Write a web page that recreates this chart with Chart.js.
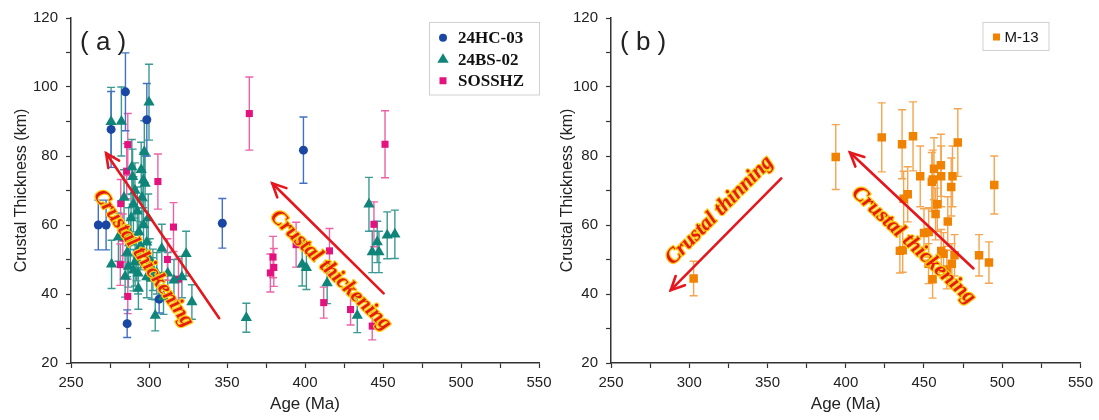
<!DOCTYPE html>
<html>
<head>
<meta charset="utf-8">
<script src="https://cdn.jsdelivr.net/npm/chart.js@4.4.1/dist/chart.umd.min.js"></script>
<style>
html, body { margin: 0; padding: 0; background: #fff; }
#wrap { position: relative; width: 1099px; height: 420px; overflow: hidden; }
.panel { position: absolute; top: 0; height: 420px; }
</style>
</head>
<body>
<div id="wrap">
  <div class="panel" style="left:0;width:560px"><canvas id="chartA"></canvas></div>
  <div class="panel" style="left:550px;width:549px"><canvas id="chartB"></canvas></div>
</div>
<script>
// ---- dados ----
// (a) 24HC-03
const ageHC = [267.5, 272.5, 275.7, 284.9, 286.0, 298.6, 306.5, 347.0, 399.0];
const thickHC = [60.0, 60.0, 87.7, 98.6, 31.4, 90.5, 38.5, 60.5, 81.7];
const errHC = [7.2, 7.2, 11.0, 11.3, 4.0, 10.5, 4.0, 7.2, 9.6];

// (a) 24BS-02
const ageBS = [275.7, 282.3, 300.0, 297.0, 289.0, 296.4, 276.0, 284.7, 291.1, 293.2,
               304.0, 309.3, 308.2, 298.6, 301.8, 280.4, 321.1, 323.8, 327.5, 286.8,
               290.0, 292.0, 287.0, 288.5, 290.0, 291.0, 292.5, 293.5, 294.5, 295.5,
               296.5, 297.5, 298.5, 299.5, 289.5, 286.0, 284.0, 300.5, 302.5, 305.0,
               312.0, 316.0, 295.0, 293.0, 288.0,
               362.4, 398.2, 400.9, 414.2, 433.5, 441.0, 443.1, 447.4, 446.3, 452.7, 457.6];
const thickBS = [89.9, 90.0, 95.6, 81.2, 76.8, 73.0, 48.6, 45.1, 49.3, 41.6,
                 33.8, 39.1, 53.2, 44.9, 44.5, 56.5, 44.9, 51.7, 37.7, 48.0,
                 46.9, 49.8, 58.0, 62.0, 66.0, 70.0, 64.0, 58.0, 54.0, 68.0,
                 60.0, 72.0, 55.0, 62.0, 74.0, 52.0, 68.0, 50.0, 47.0, 46.0,
                 46.0, 44.0, 76.0, 46.0, 55.0,
                 33.1, 48.6, 47.6, 43.2, 33.8, 66.0, 52.2, 52.2, 55.1, 57.0, 57.3];
const errBS = [10, 10, 11, 9, 8, 8, 7, 6, 7, 6,
               4.5, 5, 7, 6, 6, 7, 6, 6.5, 5, 6,
               6, 6, 7, 7, 8, 8, 7, 7, 7, 8,
               7, 8, 7, 7, 8, 7, 8, 6, 6, 6,
               6, 6, 8, 6, 7,
               4.2, 6.3, 6.3, 6, 5, 7.8, 6, 6, 6, 6.8, 7];

// (a) SOSSHZ
const ageSO = [286.4, 285.7, 305.7, 281.9, 283.2, 281.6, 286.4, 315.7, 311.8, 318.9,
               364.3, 451.3, 379.5, 377.8, 380.0, 394.3, 415.7, 412.0, 429.2, 444.2, 443.1];
const thickSO = [83.3, 75.6, 72.6, 66.2, 56.2, 48.5, 39.3, 59.4, 50.0, 44.3,
                 92.3, 83.4, 50.7, 46.1, 47.7, 54.3, 52.5, 37.5, 35.5, 60.2, 30.7];
const errSO = [9, 8, 8, 7, 7, 6, 5, 7.1, 6, 6,
               10.6, 9.7, 6, 5.5, 5.5, 6.5, 6.5, 4.5, 4.5, 6.5, 4];

// (b) M-13
const ageM13 = [302.8, 393.6, 423.0, 436.0, 443.0, 447.6, 437.0, 439.6, 434.6, 436.4,
                453.0, 455.5, 455.0, 455.6, 456.4, 460.8, 461.0, 468.2, 471.6, 467.4,
                457.4, 465.2, 494.9, 485.2, 491.5, 461.0, 462.5, 467.8, 469.5, 464.6,
                452.9, 458.5, 450.0];
const thickM13 = [44.5, 79.7, 85.4, 83.4, 85.7, 74.1, 67.6, 68.9, 52.5, 52.7,
                  58.0, 44.3, 72.5, 73.2, 76.3, 77.3, 74.1, 74.1, 83.9, 71.0,
                  63.2, 61.0, 71.6, 51.2, 49.1, 52.5, 51.7, 48.8, 51.2, 47.1,
                  48.8, 66.0, 57.7];
const errM13 = [5, 9.4, 10, 10, 10, 8.8, 8, 8, 6.4, 6.4,
                7, 5.5, 8.5, 8.5, 9, 9, 8.8, 8.8, 9.8, 8.4,
                7.5, 7.2, 8.4, 6, 6, 6.2, 6.1, 5.8, 6, 5.6,
                5.8, 7.8, 7];

// setas e textos (em unidades dos eixos)
const arrowsA = [{ from: [345, 33], to: [272.5, 80.8] }, { from: [450.4, 40.2], to: [379, 72.1] }];
const notesA = [{ text: 'Crustal thickening', at: [296.5, 50.3], arrow: 0 },
                { text: 'Crustal thickening', at: [416.5, 46.8], arrow: 1 }];
const arrowsB = [{ from: [358.8, 73.5], to: [288.2, 41.1] }, { from: [481.6, 47.4], to: [402.7, 81] }];
const notesB = [{ text: 'Crustal thinning', at: [319.3, 64.2], arrow: 0 },
                { text: 'Crustal thickening', at: [443.4, 54.1], arrow: 1 }];

const FONT = '"Liberation Sans", Arial, sans-serif';

function pontos(xs, ys) {
    return xs.map((x, i) => ({ x: x, y: ys[i] }));
}

function serie(label, xs, ys, errs, style, radius, cor, corErro) {
    return {
        label: label,
        data: pontos(xs, ys),
        errors: errs,
        errorColor: corErro,
        pointStyle: style,
        pointRadius: radius,
        pointBackgroundColor: cor,
        pointBorderColor: cor,
        pointBorderWidth: 0,
        showLine: false
    };
}

// desenha um marcador simples (legenda)
function marcador(ctx, style, x, y, r, cor) {
    ctx.fillStyle = cor;
    ctx.beginPath();
    if (style === 'circle') {
        ctx.arc(x, y, r, 0, Math.PI * 2);
    } else if (style === 'triangle') {
        ctx.moveTo(x, y - r);
        ctx.lineTo(x + r * 0.95, y + r * 0.6);
        ctx.lineTo(x - r * 0.95, y + r * 0.6);
        ctx.closePath();
    } else {
        ctx.rect(x - r, y - r, r * 2, r * 2);
    }
    ctx.fill();
}

function seta(ctx, x1, y1, x2, y2) {
    ctx.beginPath();
    ctx.moveTo(x1, y1);
    ctx.lineTo(x2, y2);
    ctx.stroke();
    const a = Math.atan2(y2 - y1, x2 - x1);
    const L = 15;
    ctx.beginPath();
    ctx.moveTo(x2 - L * Math.cos(a - 0.45), y2 - L * Math.sin(a - 0.45));
    ctx.lineTo(x2, y2);
    ctx.lineTo(x2 - L * Math.cos(a + 0.45), y2 - L * Math.sin(a + 0.45));
    ctx.stroke();
}

const decoPlugin = {
    id: 'deco',
    beforeDatasetsDraw(chart) {
        const ctx = chart.ctx;
        const yS = chart.scales.y;
        ctx.save();
        chart.data.datasets.forEach((ds, i) => {
            const meta = chart.getDatasetMeta(i);
            ctx.strokeStyle = ds.errorColor;
            ctx.lineWidth = 1.4;
            meta.data.forEach((pt, j) => {
                const v = ds.data[j].y, e = ds.errors[j];
                const yT = yS.getPixelForValue(v + e);
                const yB = yS.getPixelForValue(v - e);
                ctx.beginPath();
                ctx.moveTo(pt.x, yT); ctx.lineTo(pt.x, yB);
                ctx.moveTo(pt.x - 4, yT); ctx.lineTo(pt.x + 4, yT);
                ctx.moveTo(pt.x - 4, yB); ctx.lineTo(pt.x + 4, yB);
                ctx.stroke();
            });
        });
        ctx.restore();
    },
    afterDatasetsDraw(chart, args, opts) {
        const ctx = chart.ctx;
        const xS = chart.scales.x, yS = chart.scales.y;
        const area = chart.chartArea;
        const px = p => [xS.getPixelForValue(p[0]), yS.getPixelForValue(p[1])];
        ctx.save();

        // setas vermelhas
        ctx.strokeStyle = '#e5161d';
        ctx.lineWidth = 2.6;
        ctx.lineCap = 'round';
        opts.arrows.forEach(a => {
            const f = px(a.from), t = px(a.to);
            seta(ctx, f[0], f[1], t[0], t[1]);
        });

        // textos inclinados
        opts.notes.forEach(n => {
            const a = opts.arrows[n.arrow];
            const f = px(a.from), t = px(a.to);
            let ang = Math.atan2(t[1] - f[1], t[0] - f[0]);
            if (Math.cos(ang) < 0) ang += Math.PI;
            const c = px(n.at);
            ctx.save();
            ctx.translate(c[0], c[1]);
            ctx.rotate(ang);
            ctx.font = 'italic bold 21px "Liberation Serif", "Times New Roman", serif';
            ctx.textAlign = 'center';
            ctx.textBaseline = 'middle';
            ctx.lineJoin = 'round';
            ctx.lineWidth = 2.4;
            ctx.strokeStyle = '#ffcc10';
            ctx.strokeText(n.text, 0, 0);
            ctx.fillStyle = '#e41b12';
            ctx.fillText(n.text, 0, 0);
            ctx.restore();
        });

        // rótulo do painel
        ctx.fillStyle = '#222';
        ctx.font = '26px ' + FONT;
        ctx.textAlign = 'left';
        ctx.textBaseline = 'middle';
        ctx.fillText(opts.label, area.left + 9, area.top + 25);

        // legenda com caixa
        const lg = opts.legend;
        const bx = area.right - lg.offsetRight - lg.width;
        const by = area.top + 4;
        ctx.fillStyle = '#fff';
        ctx.fillRect(bx, by, lg.width, lg.rowH * lg.items.length + 8);
        ctx.strokeStyle = '#d0d0d0';
        ctx.lineWidth = 1;
        ctx.strokeRect(bx + 0.5, by + 0.5, lg.width, lg.rowH * lg.items.length + 8);
        lg.items.forEach((it, k) => {
            const yy = by + 4 + lg.rowH * (k + 0.5) + 1;
            marcador(ctx, it.style, bx + 14, yy, it.r, it.color);
            ctx.fillStyle = '#111';
            ctx.font = lg.font;
            ctx.textAlign = 'left';
            ctx.textBaseline = 'middle';
            ctx.fillText(it.label, bx + lg.textX, yy + 1);
        });
        ctx.restore();
    }
};

function opcoes(yWidth, titlePad, padRight, deco) {
    return {
        responsive: true,
        maintainAspectRatio: false,
        animation: false,
        events: [],
        layout: { autoPadding: false, padding: { left: 0, top: 18, right: padRight, bottom: 0 } },
        plugins: { legend: { display: false }, tooltip: { enabled: false }, deco: deco },
        scales: {
            x: {
                type: 'linear', min: 250, max: 550,
                ticks: {
                    stepSize: 25, autoSkip: false, maxRotation: 0, padding: 6,
                    color: '#222', font: { family: FONT, size: 15 },
                    callback: v => (v % 50 === 0 ? v : '')
                },
                grid: { drawOnChartArea: false, tickLength: 5, color: '#333', tickWidth: 1.2 },
                border: { color: '#333', width: 1.5 },
                title: { display: true, text: 'Age (Ma)', color: '#222',
                         font: { family: FONT, size: 17 }, padding: { top: 0, bottom: 5 } },
                afterFit: s => { s.height = 57; }
            },
            y: {
                type: 'linear', min: 20, max: 120,
                ticks: {
                    stepSize: 10, autoSkip: false, padding: 8,
                    color: '#222', font: { family: FONT, size: 15 },
                    callback: v => (v % 20 === 0 ? v : '')
                },
                grid: { drawOnChartArea: false, tickLength: 5, color: '#333', tickWidth: 1.2 },
                border: { color: '#333', width: 1.5 },
                title: { display: true, text: 'Crustal Thickness (km)', color: '#222',
                         font: { family: FONT, size: 16 }, padding: { top: titlePad, bottom: 0 } },
                afterFit: s => { s.width = yWidth; }
            }
        }
    };
}

const legendA = {
    width: 110, rowH: 21.5, offsetRight: 0, textX: 29,
    font: 'bold 17px "Liberation Serif", "Times New Roman", serif',
    items: [
        { label: '24HC-03', style: 'circle', r: 4, color: '#1a47a3' },
        { label: '24BS-02', style: 'triangle', r: 6, color: '#0f8479' },
        { label: 'SOSSHZ', style: 'rect', r: 3.5, color: '#e3127e' }
    ]
};
const legendB = {
    width: 66, rowH: 20, offsetRight: 32, textX: 22,
    font: '15px ' + FONT,
    items: [{ label: 'M-13', style: 'rect', r: 3.5, color: '#f08200' }]
};

new Chart(document.getElementById('chartA'), {
    type: 'scatter',
    data: {
        datasets: [
            serie('24BS-02', ageBS, thickBS, errBS, 'triangle', 6.5, '#0f8479', '#3b9a93'),
            serie('SOSSHZ', ageSO, thickSO, errSO, 'rect', 5, '#e3127e', '#ec62a8'),
            serie('24HC-03', ageHC, thickHC, errHC, 'circle', 4.5, '#1a47a3', '#4170c4')
        ]
    },
    options: opcoes(71, 12, 21, { label: '( a )', arrows: arrowsA, notes: notesA, legend: legendA }),
    plugins: [decoPlugin]
});

new Chart(document.getElementById('chartB'), {
    type: 'scatter',
    data: {
        datasets: [
            serie('M-13', ageM13, thickM13, errM13, 'rect', 6, '#f08200', '#f5a54f')
        ]
    },
    options: opcoes(61, 8, 17, { label: '( b )', arrows: arrowsB, notes: notesB, legend: legendB }),
    plugins: [decoPlugin]
});
</script>
</body>
</html>
